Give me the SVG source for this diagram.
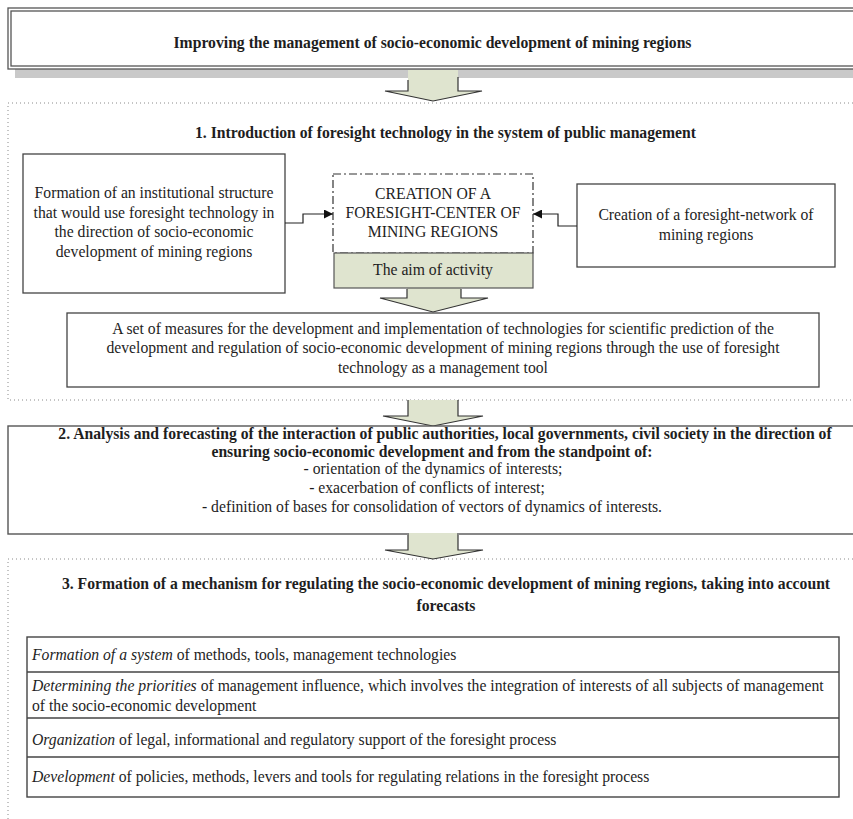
<svg xmlns="http://www.w3.org/2000/svg" width="853" height="819" viewBox="0 0 853 819" font-family="'Liberation Serif', 'Times New Roman', 'DejaVu Serif', serif">
<defs>
<style>
text{fill:#1e1e1e;}
.b{font-weight:bold;font-size:15.7px;}
.r{font-size:15.7px;}
.c{text-anchor:middle;}
.box{fill:#fff;stroke:#444;stroke-width:1.3;}
.dot{fill:none;stroke:#8a8a8a;stroke-width:1;stroke-dasharray:1 3;}
.afill{fill:#dfe4cf;stroke:none;}
.aline{fill:none;stroke:#333;stroke-width:1.2;}
.conn{fill:none;stroke:#222;stroke-width:1.2;}
</style>
<marker id="ah" viewBox="0 0 10 10" refX="10" refY="5" markerWidth="12" markerHeight="9" markerUnits="userSpaceOnUse" orient="auto">
<path d="M0,0 L10,5 L0,10 Z" fill="#111"/>
</marker>
</defs>

<!-- section dotted frames -->
<g id="frames">
<path class="dot" d="M853,103 H8 V400 H853"/>
<path class="dot" d="M853,559 H8 V819"/>
</g>

<!-- top title -->
<g id="title">
<rect x="15" y="66" width="840" height="12" fill="#c9c9c9"/>
<rect x="8" y="8" width="850" height="61" fill="#fff" stroke="#555" stroke-width="1.3"/>
<rect x="11" y="11" width="850" height="55" fill="none" stroke="#555" stroke-width="1.3"/>
<text class="b c" x="432.5" y="48">Improving the management of socio-economic development of mining regions</text>
</g>

<!-- block arrows -->
<g id="arrows">
<path class="afill" d="M408,70 H458 V91 H482 L433,101 L385,91 H408 Z"/>
<path class="aline" d="M408,80 V91 H385 L433,101 L482,91 H458 V77"/>

<path class="afill" d="M407,288 H461 V298 H488 L433,312 L380,298 H407 Z"/>
<path class="aline" d="M407,289 V298 H380 L433,312 L488,298 H461 V289"/>

<path class="afill" d="M408,400 H458 V416 H483 L433,426 L383,416 H408 Z"/>
<path class="aline" d="M408,400 V416 H383 L433,426 L483,416 H458 V400"/>

<path class="afill" d="M408,534 H458 V550 H483 L433,559 L385,550 H408 Z"/>
<path class="aline" d="M408,535 V550 H385 L433,559 L483,550 H458 V535"/>
</g>

<!-- section 1 -->
<g id="section1-header">
<text class="b c" x="445.5" y="138">1. Introduction of foresight technology in the system of public management</text>
</g>

<g id="node-left">
<rect class="box" x="23" y="154" width="262" height="139"/>
<text class="r c" x="154" y="198">Formation of an institutional structure</text>
<text class="r c" x="154" y="218">that would use foresight technology in</text>
<text class="r c" x="154" y="237">the direction of socio-economic</text>
<text class="r c" x="154" y="257">development of mining regions</text>
</g>

<g id="node-center">
<rect x="333" y="174" width="200" height="79" fill="#fff" stroke="#333" stroke-width="1.2" stroke-dasharray="8 3 2 3"/>
<text class="r c" x="433" y="199">CREATION OF A</text>
<text class="r c" x="433" y="218">FORESIGHT-CENTER OF</text>
<text class="r c" x="433" y="237">MINING REGIONS</text>
</g>

<g id="node-aim">
<rect x="334" y="253" width="199" height="35" fill="#dfe4cf" stroke="#555" stroke-width="1.2"/>
<text class="r c" x="433" y="275">The aim of activity</text>
</g>

<g id="node-right">
<rect class="box" x="577" y="184" width="258" height="83"/>
<text class="r c" x="706" y="220">Creation of a foresight-network of</text>
<text class="r c" x="706" y="240">mining regions</text>
</g>

<g id="node-measures">
<rect class="box" x="67" y="313" width="752" height="74"/>
<text class="r c" x="443" y="334">A set of measures for the development and implementation of technologies for scientific prediction of the</text>
<text class="r c" x="443" y="353">development and regulation of socio-economic development of mining regions through the use of foresight</text>
<text class="r c" x="443" y="373">technology as a management tool</text>
</g>

<g id="connectors">
<path class="conn" d="M285,223 H303 V214 H333" marker-end="url(#ah)"/>
<path class="conn" d="M577,226 H558 V214 H533" marker-end="url(#ah)"/>
</g>

<!-- section 2 -->
<g id="section2">
<rect x="8" y="426" width="850" height="108" fill="#fff" stroke="#555" stroke-width="1.4"/>
<text class="b c" x="445" y="439">2. Analysis and forecasting of the interaction of public authorities, local governments, civil society in the direction of</text>
<text class="b c" x="432" y="457">ensuring socio-economic development and from the standpoint of:</text>
<text class="r c" x="433" y="474">- orientation of the dynamics of interests;</text>
<text class="r c" x="427" y="493">- exacerbation of conflicts of interest;</text>
<text class="r c" x="432" y="512">- definition of bases for consolidation of vectors of dynamics of interests.</text>
</g>
<g id="arrow3-top">
<rect class="afill" x="409" y="533" width="48" height="3"/>
</g>

<!-- section 3 -->
<g id="section3-header">
<text class="b c" x="446" y="589">3. Formation of a mechanism for regulating the socio-economic development of mining regions, taking into account</text>
<text class="b c" x="446" y="611">forecasts</text>
</g>

<g id="table">
<rect x="27" y="637" width="812" height="160" fill="#fff" stroke="#444" stroke-width="1.4"/>
<line x1="27" y1="672" x2="839" y2="672" stroke="#444" stroke-width="1.3"/>
<line x1="27" y1="718" x2="839" y2="718" stroke="#444" stroke-width="1.3"/>
<line x1="27" y1="757" x2="839" y2="757" stroke="#444" stroke-width="1.3"/>
<text class="r" x="32" y="660"><tspan font-style="italic">Formation of a system</tspan> of methods, tools, management technologies</text>
<text class="r" x="32" y="691"><tspan font-style="italic">Determining the priorities</tspan> of management influence, which involves the integration of interests of all subjects of management</text>
<text class="r" x="32" y="711">of the socio-economic development</text>
<text class="r" x="32" y="745"><tspan font-style="italic">Organization</tspan> of legal, informational and regulatory support of the foresight process</text>
<text class="r" x="32" y="782"><tspan font-style="italic">Development</tspan> of policies, methods, levers and tools for regulating relations in the foresight process</text>
</g>
</svg>
